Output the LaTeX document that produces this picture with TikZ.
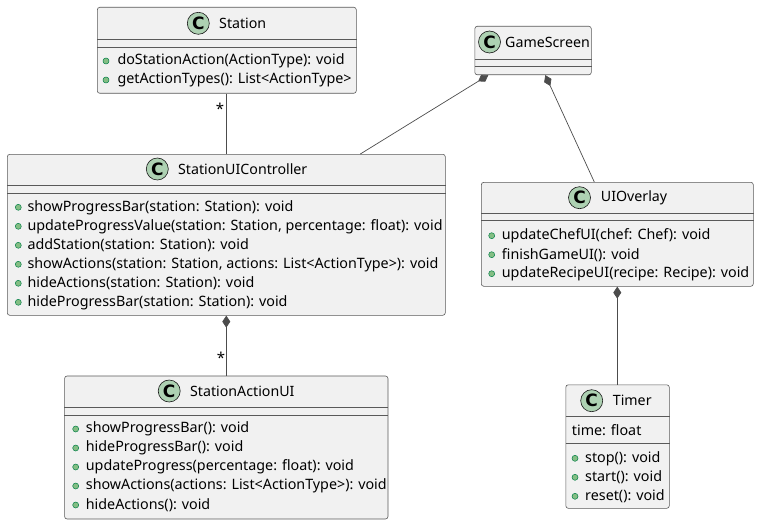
\documentclass[tikz,border=0pt]{standalone}
\usepackage{fontspec}
\setmainfont{Noto Sans}
\newfontfamily\iconfont{DejaVu Sans}
\usetikzlibrary{arrows.meta,calc}
\definecolor{boxfill}{HTML}{F1F1F1}
\definecolor{boxline}{HTML}{181818}
\definecolor{circfill}{HTML}{ADD1B2}
\definecolor{dotfill}{HTML}{84BE84}
\definecolor{dotline}{HTML}{038048}
\begin{document}
\begin{tikzpicture}[x=1pt,y=-1pt,font=\fontsize{14.3}{16}\selectfont,
  classbox/.style={draw=black!65, fill=boxfill, line width=0.6pt, rounded corners=2.5pt, inner sep=0, anchor=north west},
  sep/.style={draw=black!65, line width=0.6pt},
  cicon/.style={circle, draw=boxline, fill=circfill, minimum size=22pt, inner sep=0, line width=0.6pt, font=\iconfont\fontsize{17}{17}\selectfont\bfseries},
  title/.style={anchor=west, inner sep=0, font=\fontsize{14.2}{16}\selectfont},
  member/.style={anchor=west, inner sep=0},
  mdot/.style={circle, draw=dotline, fill=dotfill, minimum size=6pt, inner sep=0, line width=0.5pt},
  link/.style={draw=black!70, line width=0.7pt},
  comp/.style={link, {Diamond[length=12pt,width=8pt]}-},
  mult/.style={inner sep=0, font=\fontsize{15}{16}\selectfont}]
\useasboundingbox (0,0) rectangle (759,524);
% Station
\node[classbox, minimum width=259pt, minimum height=86pt] (st) at (97,7) {};
\node[cicon] (stc) at (198.3,23.3) {C};
\node[title] (stn) at (219,23.3) {Station};
\draw[sep] (st.west |- 0,39) -- (st.east |- 0,39);
\draw[sep] (st.west |- 0,47) -- (st.east |- 0,47);
\node[mdot] (std1) at (106,61) {}; \node[member] (stm1) at (117.3,61) {doStationAction(ActionType): void};
\node[mdot] (std2) at (106,80) {}; \node[member] (stm2) at (117.3,80) {getActionTypes(): List<ActionType>};
% StationUIController
\node[classbox, minimum width=438pt, minimum height=161pt] (suc) at (7,154) {};
\node[cicon] (succ) at (157.3,169) {C};
\node[title] (sucn) at (178,169) {StationUIController};
\draw[sep] (suc.west |- 0,185.3) -- (suc.east |- 0,185.3);
\draw[sep] (suc.west |- 0,193.3) -- (suc.east |- 0,193.3);
\node[mdot] (sucd1) at (18.3,207.3) {}; \node[member] (sucm1) at (27.3,207.3) {showProgressBar(station: Station): void};
\node[mdot] (sucd2) at (18.3,226.3) {}; \node[member] (sucm2) at (27.3,226.3) {updateProgressValue(station: Station, percentage: float): void};
\node[mdot] (sucd3) at (18.3,245.3) {}; \node[member] (sucm3) at (27.3,245.3) {addStation(station: Station): void};
\node[mdot] (sucd4) at (18.3,264.3) {}; \node[member] (sucm4) at (27.3,264.3) {showActions(station: Station, actions: List<ActionType>): void};
\node[mdot] (sucd5) at (18.3,283.3) {}; \node[member] (sucm5) at (27.3,283.3) {hideActions(station: Station): void};
\node[mdot] (sucd6) at (18.3,302.3) {}; \node[member] (sucm6) at (27.3,302.3) {hideProgressBar(station: Station): void};
% GameScreen
\node[classbox, minimum width=116.5pt, minimum height=48.5pt] (gs) at (474.5,26) {};
\node[cicon] (gsc) at (489.5,42) {C};
\node[title] (gsn) at (505,42) {GameScreen};
\draw[sep] (gs.west |- 0,59.3) -- (gs.east |- 0,59.3);
\draw[sep] (gs.west |- 0,66.7) -- (gs.east |- 0,66.7);
% UIOverlay
\node[classbox, minimum width=272pt, minimum height=104pt] (uio) at (481,182) {};
\node[cicon] (uioc) at (579.5,197.7) {C};
\node[title] (uion) at (600.7,197.7) {UIOverlay};
\draw[sep] (uio.west |- 0,213.3) -- (uio.east |- 0,213.3);
\draw[sep] (uio.west |- 0,220.7) -- (uio.east |- 0,220.7);
\node[mdot] (uiod1) at (491.7,235.7) {}; \node[member] (uiom1) at (501.7,235.7) {updateChefUI(chef: Chef): void};
\node[mdot] (uiod2) at (491.7,254.7) {}; \node[member] (uiom2) at (501.7,254.7) {finishGameUI(): void};
\node[mdot] (uiod3) at (491.7,273.7) {}; \node[member] (uiom3) at (501.7,273.7) {updateRecipeUI(recipe: Recipe): void};
% Timer
\node[classbox, minimum width=103.5pt, minimum height=123.5pt] (tm) at (565.5,384.5) {};
\node[cicon] (tmc) at (591.7,400.7) {C};
\node[title] (tmn) at (612.7,400.7) {Timer};
\draw[sep] (tm.west |- 0,416) -- (tm.east |- 0,416);
\draw[sep] (tm.west |- 0,443.3) -- (tm.east |- 0,443.3);
\node[member] (tma1) at (571.7,430) {time: float};
\node[mdot] (tmd1) at (575,458.3) {}; \node[member] (tmm1) at (585,458.3) {stop(): void};
\node[mdot] (tmd2) at (575,477.3) {}; \node[member] (tmm2) at (585,477.3) {start(): void};
\node[mdot] (tmd3) at (575,496.3) {}; \node[member] (tmm3) at (585,496.3) {reset(): void};
% StationActionUI
\node[classbox, minimum width=323.4pt, minimum height=143pt] (sau) at (64.3,375.7) {};
\node[cicon] (sauc) at (169.2,391) {C};
\node[title] (saun) at (190,391) {StationActionUI};
\draw[sep] (sau.west |- 0,407.7) -- (sau.east |- 0,407.7);
\draw[sep] (sau.west |- 0,415.7) -- (sau.east |- 0,415.7);
\node[mdot] (saud1) at (75.7,429) {}; \node[member] (saum1) at (85.7,429) {showProgressBar(): void};
\node[mdot] (saud2) at (75.7,448) {}; \node[member] (saum2) at (85.7,448) {hideProgressBar(): void};
\node[mdot] (saud3) at (75.7,467) {}; \node[member] (saum3) at (85.7,467) {updateProgress(percentage: float): void};
\node[mdot] (saud4) at (75.7,486) {}; \node[member] (saum4) at (85.7,486) {showActions(actions: List<ActionType>): void};
\node[mdot] (saud5) at (75.7,505) {}; \node[member] (saum5) at (85.7,505) {hideActions(): void};
% connectors
\draw[link] (st.south) -- (st.south |- suc.north);
\node[mult] (m1) at (220,109) {*};
\draw[comp] ([xshift=-44.75pt]gs.south) -- ([xshift=134pt]suc.north);
\draw[comp] ([xshift=12.25pt]gs.south) -- ([xshift=-23pt]uio.north);
\draw[comp] (suc.south) -- (suc.south |- sau.north);
\node[mult] (m2) at (221,358) {*};
\draw[comp] (uio.south) -- (uio.south |- tm.north);
\end{tikzpicture}
\end{document}
